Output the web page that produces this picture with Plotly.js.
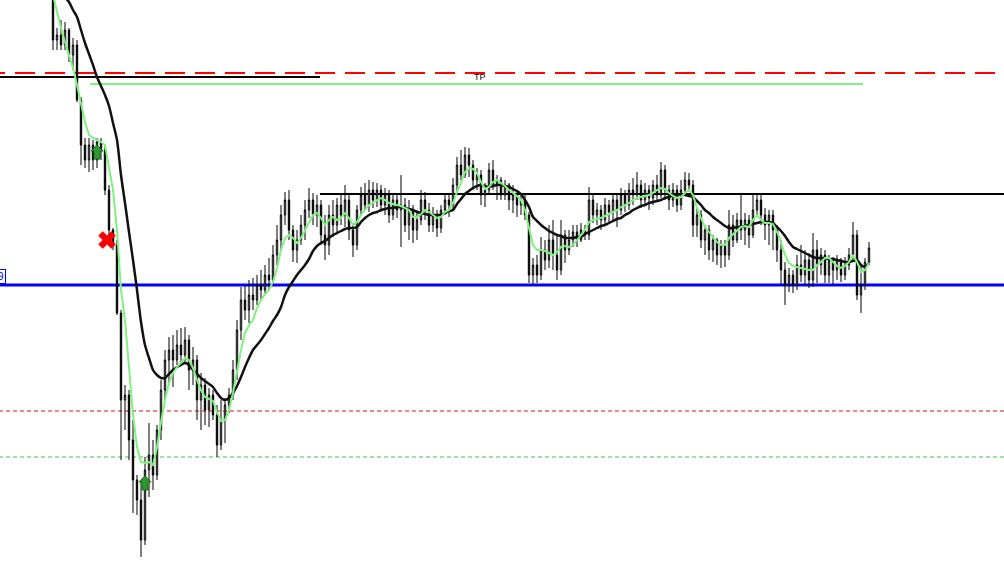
<!DOCTYPE html>
<html><head><meta charset="utf-8">
<script src="https://cdn.plot.ly/plotly-3.0.1.min.js"></script>
<style>html,body{margin:0;padding:0;background:#fff;overflow:hidden}#chart{width:1004px;height:575px}</style>
</head><body><div id="chart"></div>
<script>
// ---- candle data (price in points) ----
const openP=[585,535,540,530,545,520,530,475,430,415,
430,415,433,425,385,345,330,262,175,180,
135,95,75,35,105,120,100,145,185,215,
225,215,230,220,235,205,215,175,190,165,
180,160,130,155,170,180,205,245,275,265,
280,275,290,285,300,295,320,335,360,375,
345,325,335,350,365,375,360,370,340,330,
360,350,370,360,375,345,330,365,380,370,
385,375,385,370,380,360,375,365,370,350,
365,345,355,375,365,350,360,347,365,375,
370,390,410,400,420,410,395,400,380,385,
405,390,395,380,390,375,380,370,375,360,
300,310,300,325,315,335,320,305,340,325,
335,343,335,345,340,375,360,365,355,370,
363,375,365,380,370,385,380,390,375,385,
377,390,380,405,385,375,385,370,385,395,
390,350,360,335,345,325,335,320,330,320,
350,335,355,345,355,340,365,375,360,350,
360,345,325,305,290,300,290,310,300,315,
295,325,310,320,300,315,305,315,300,310,
320,340,280,290,313];
const highP=[590,547,555,553,547,537,535,478,437,437,
435,437,437,430,390,347,335,265,190,185,
155,100,95,118,152,135,150,195,225,238,
240,245,247,248,240,228,220,202,197,187,
185,170,175,177,187,215,255,288,290,295,
297,300,305,310,317,330,350,370,383,385,
350,345,360,375,387,382,380,375,360,370,
375,377,382,390,380,352,370,388,392,395,
393,392,390,387,385,382,380,400,377,375,
370,365,385,383,372,368,365,370,382,380,
397,418,425,428,427,415,407,405,392,412,
415,400,398,395,392,390,385,382,382,363,
317,320,338,335,350,355,340,355,345,345,
350,350,352,350,388,380,372,370,377,375,
382,380,387,385,392,397,403,395,392,390,
395,400,413,410,390,392,390,395,403,402,
395,367,365,350,350,340,337,335,335,365,
360,362,382,362,360,382,382,380,367,365,
365,350,335,313,307,305,320,330,325,322,
342,335,327,325,320,318,320,317,318,327,
353,345,310,317,333];
const lowP=[525,525,525,525,513,505,473,410,407,403,
405,407,415,380,340,325,260,115,145,115,
62,60,18,30,78,85,95,135,175,190,
188,210,213,212,185,190,155,145,150,148,
155,118,125,132,162,175,195,235,255,252,
265,270,275,280,285,290,310,325,350,335,
313,312,330,335,357,350,348,330,315,320,
338,343,350,348,335,318,325,360,365,363,
367,368,363,360,352,355,357,328,343,335,
332,335,350,355,343,343,338,342,360,358,
365,380,395,397,398,385,385,370,368,380,
385,375,375,375,365,362,358,360,355,292,
290,292,295,305,307,305,295,300,312,320,
328,328,333,335,335,352,350,345,350,353,
355,348,360,363,365,370,375,367,370,365,
370,375,377,375,365,368,363,365,382,383,
338,338,327,320,315,313,310,307,308,315,
328,332,335,330,327,337,358,350,335,330,
325,313,290,270,283,282,285,293,290,287,
288,292,300,292,292,290,295,293,295,305,
313,275,262,285,310];
const closeP=[535,540,530,545,520,530,475,430,415,430,
415,433,425,385,345,330,262,175,180,135,
95,75,35,105,120,100,145,185,215,225,
215,230,220,235,205,215,175,190,165,180,
160,130,155,170,180,205,245,275,265,280,
275,290,285,300,295,320,335,360,375,345,
325,335,350,365,375,360,370,340,330,360,
350,370,360,375,345,330,365,380,370,385,
375,385,370,380,360,375,365,370,350,365,
345,355,375,365,350,360,347,365,375,370,
390,410,400,420,410,395,400,380,385,405,
390,395,380,390,375,380,370,375,360,300,
310,300,325,315,335,320,305,340,325,335,
343,335,345,340,375,360,365,355,370,363,
375,365,380,370,385,380,390,375,385,377,
390,380,405,385,375,385,370,385,395,390,
350,360,335,345,325,335,320,330,320,350,
335,355,345,355,340,365,375,360,350,360,
345,325,305,290,300,290,310,300,315,295,
325,310,320,300,315,305,315,300,310,320,
340,280,290,313,327];
// ---- moving averages, one value per candle ----
const fastMA=[580,563,547,533,520,507,490,470,453,440,
437,435,433,430,407,385,345,285,255,205,
160,128,113,112,113,110,128,153,175,192,
202,208,213,217,215,207,195,185,178,176,
174,163,154,155,165,182,205,225,242,250,
255,267,275,281,285,293,307,325,337,340,
337,332,337,345,353,360,362,357,350,355,
358,355,357,362,357,350,353,360,365,370,
372,375,377,375,372,371,370,369,367,365,
358,358,361,365,363,360,357,358,363,365,
372,383,392,403,407,406,402,393,386,388,
393,395,392,389,385,382,379,375,365,347,
330,325,325,324,322,320,323,328,329,328,
330,335,339,345,353,355,356,357,359,361,
363,365,368,370,372,375,377,378,379,380,
382,385,387,386,382,379,377,378,382,385,
380,367,357,348,343,338,333,330,330,337,
341,345,348,349,348,355,360,355,352,352,
351,343,333,320,312,309,308,307,306,305,
305,310,313,317,317,313,309,307,309,313,
320,313,303,305,312];
const slowMA=[605,595,585,578,573,565,558,545,532,521,
510,498,489,480,469,452,435,400,372,343,
315,285,253,230,217,205,200,197,197,201,
205,208,210,212,210,205,201,197,194,191,
188,182,177,175,177,182,189,198,208,217,
225,230,235,241,247,254,260,268,280,288,
294,300,305,310,316,324,329,332,334,337,
340,342,344,346,347,347,348,353,357,360,
362,363,365,366,367,367,368,368,367,366,
365,363,362,361,360,360,360,360,362,364,
365,371,376,381,384,387,389,390,389,388,
389,390,390,389,388,386,384,381,375,368,
358,354,350,347,344,342,340,339,337,337,
337,338,338,341,343,345,347,349,350,352,
354,356,357,360,362,365,367,369,370,372,
373,374,375,377,378,380,380,381,380,379,
378,374,370,365,362,358,355,352,349,347,
347,348,348,349,350,351,352,353,353,353,
352,348,344,339,333,328,326,324,322,320,
318,317,317,317,316,316,315,314,313,313,
314,315,310,308,312];
// ---- horizontal levels ----
const levelPrice=[502,498,491,381,290,164,118];
const levelFrom=[-17,-17,9.25,66.75,-17,-17,-17];   // bar index where the level starts
const levelTo=[240,66.75,202.5,240,240,240,240];    // bar index where it ends
const levelColor=['#ff0000','#000000','#80f080','#000000','#0000ff','#d01010','#40c040'];
const levelWidth=[2,2,2,2,3,1,1];
const levelDash=['20px,10px','solid','solid','solid','solid','4px,3px','4px,3px'];
// ---- signals ----
const buyBar=[11,23];
const buyPrice=[423,92];
const closeBar=[13.5];
const closePrice=[335];
const labelText=['TP'];
const labelBar=[106.75];
const labelPrice=[498];
const tagText='9';
const tagPrice=290;

const idx=closeP.map((_,i)=>i);

const traces=[
  {type:'candlestick',x:idx,open:openP,high:highP,low:lowP,close:closeP,
   increasing:{line:{color:'#000',width:1},fillcolor:'#ffffff'},
   decreasing:{line:{color:'#000',width:1},fillcolor:'#000000'},
   whiskerwidth:0,hoverinfo:'skip',showlegend:false},
  {type:'scatter',mode:'lines',x:idx,y:slowMA,line:{color:'#111',width:2.5,shape:'spline',smoothing:0.8},hoverinfo:'skip',showlegend:false},
  {type:'scatter',mode:'lines',x:idx,y:fastMA,line:{color:'#80f080',width:2},hoverinfo:'skip',showlegend:false},
  {type:'scatter',mode:'markers',x:closeBar,y:closePrice,
   marker:{symbol:'x',size:15,color:'#ff0000',line:{color:'#cc0000',width:0.5}},hoverinfo:'skip',showlegend:false}
];

const shapes=levelPrice.map((p,k)=>({type:'line',xref:'x',yref:'y',x0:levelFrom[k],x1:levelTo[k],y0:p,y1:p,
  layer:'below',line:{color:levelColor[k],width:levelWidth[k],dash:levelDash[k]}}));
buyBar.forEach((b,k)=>{
  shapes.push({type:'path',xref:'x',yref:'y',xsizemode:'pixel',ysizemode:'pixel',xanchor:b,yanchor:buyPrice[k],
    path:'M0,7 L6,1 L3,1 L3,-7 L-3,-7 L-3,1 L-6,1 Z',fillcolor:'#2c9a2c',line:{color:'#1a6a1a',width:1},layer:'above'});
});

const annotations=labelText.map((t,k)=>({x:labelBar[k],y:labelPrice[k],xref:'x',yref:'y',text:t,showarrow:false,
  font:{family:'Liberation Sans, Arial, sans-serif',size:9,color:'#000'},xanchor:'center',yanchor:'middle'}));
annotations.push({x:0,y:tagPrice,xref:'paper',yref:'y',text:tagText,showarrow:false,xanchor:'left',yanchor:'bottom',
  xshift:-4,yshift:1,font:{family:'Liberation Sans, Arial, sans-serif',size:10,color:'#0000ff'},
  bgcolor:'#ffffff',bordercolor:'#0000ff',borderwidth:1,borderpad:1});

const layout={width:1004,height:575,margin:{l:0,r:0,t:0,b:0},paper_bgcolor:'#fff',plot_bgcolor:'#fff',
  showlegend:false,boxgap:0.5,
  xaxis:{range:[-13.25,237.75],visible:false,showgrid:false,zeroline:false,rangeslider:{visible:false},fixedrange:true},
  yaxis:{range:[0,575],visible:false,showgrid:false,zeroline:false,fixedrange:true},
  shapes:shapes,annotations:annotations};
Plotly.newPlot('chart',traces,layout,{staticPlot:true,displayModeBar:false});
</script></body></html>
